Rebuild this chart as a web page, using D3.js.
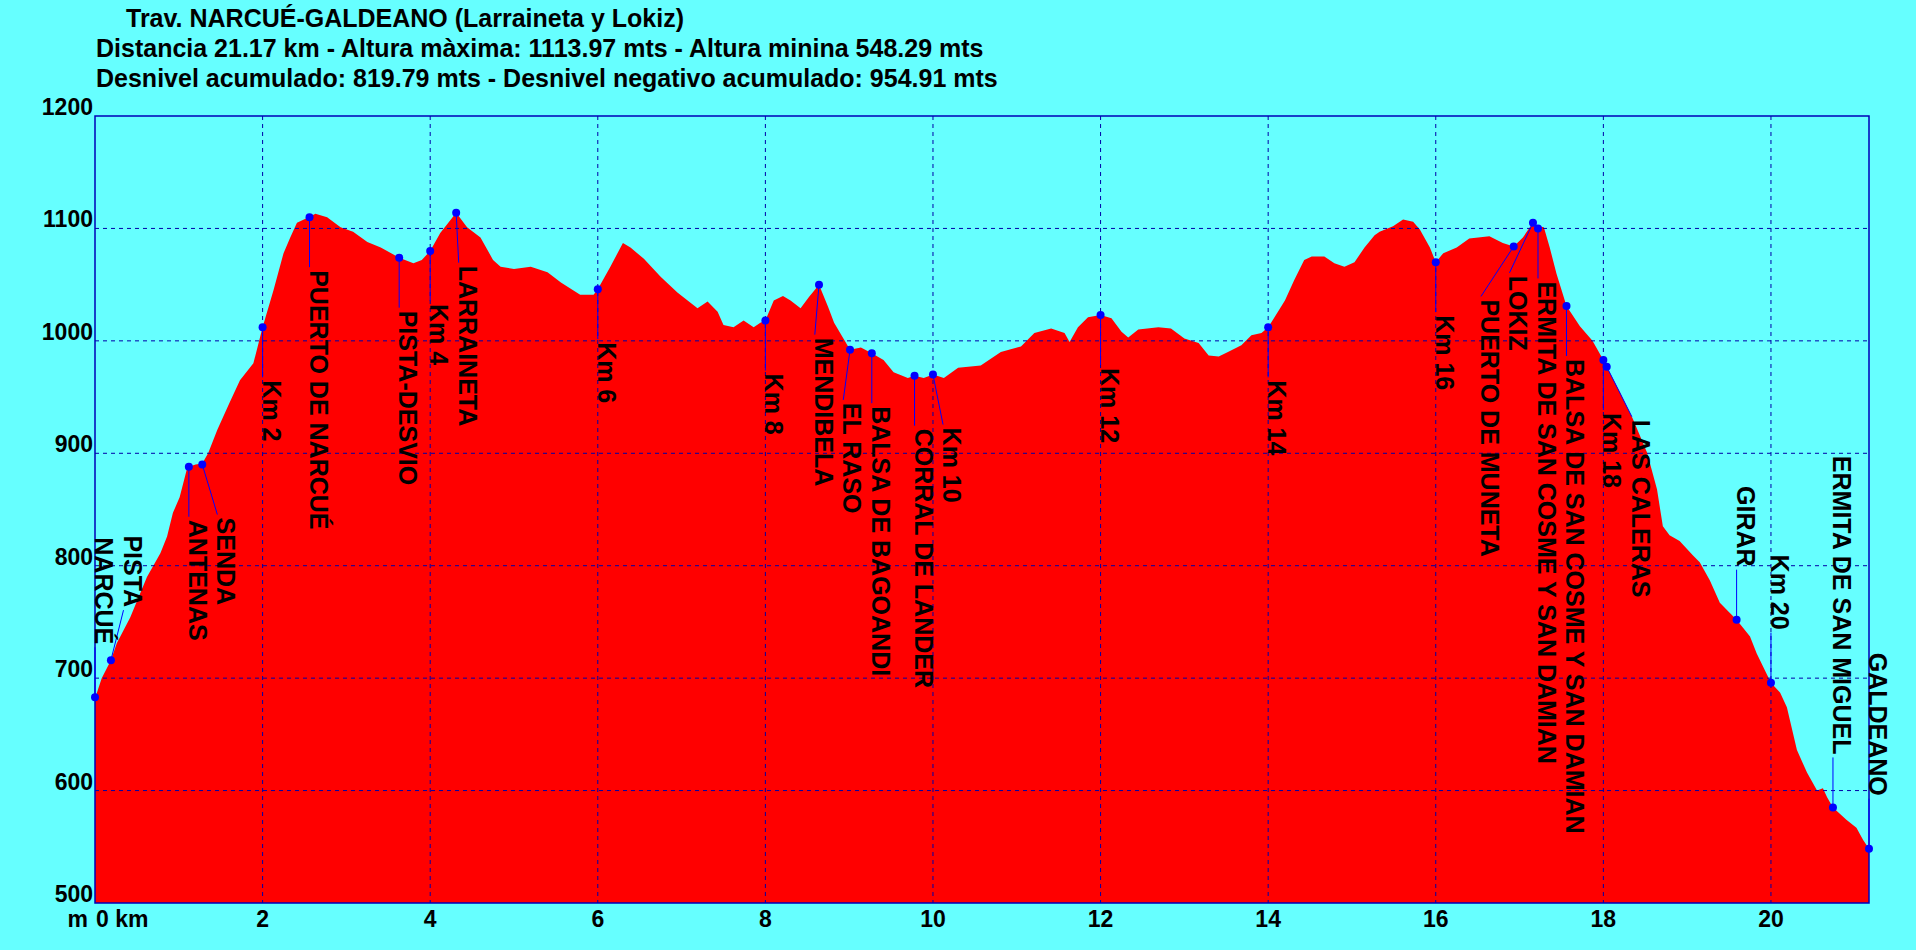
<!DOCTYPE html>
<html>
<head>
<meta charset="utf-8">
<script src="https://cdnjs.cloudflare.com/ajax/libs/d3/7.8.5/d3.min.js"></script>
<style>
  body { margin: 0; background: #66ffff; }
  text { font-family: Arial, "Liberation Sans", sans-serif; font-weight: bold; fill: #000; }
</style>
</head>
<body>
<svg id="chart"></svg>
<script>
var width = 1916;
var height = 950;

// elevation profile (km, m)
var distKm = [0.00, 0.08, 0.19, 0.26, 0.42, 0.62, 0.78, 0.86, 0.93, 1.01, 1.10, 1.12, 1.20, 1.28, 1.35, 1.46, 1.60, 1.73, 1.89,
    2.00, 2.13, 2.25, 2.33, 2.41, 2.55, 2.63, 2.77, 2.93, 3.08, 3.25, 3.41, 3.63, 3.80, 3.90,
    4.00, 4.12, 4.31, 4.44, 4.60, 4.75, 4.84, 5.00, 5.20, 5.40, 5.56, 5.79, 5.95,
    6.00, 6.15, 6.30, 6.39, 6.55, 6.75, 6.95, 7.19, 7.31, 7.43, 7.50, 7.62, 7.74, 7.86, 7.94,
    8.00, 8.10, 8.21, 8.30, 8.42, 8.52, 8.64, 8.75, 8.82, 8.94, 9.01, 9.14, 9.27, 9.41, 9.53, 9.70, 9.78, 9.89,
    10.00, 10.13, 10.30, 10.57, 10.81, 11.05, 11.21, 11.41, 11.57, 11.63, 11.73, 11.85,
    12.00, 12.13, 12.25, 12.33, 12.45, 12.69, 12.84, 13.00, 13.17, 13.29, 13.41, 13.52, 13.68, 13.80, 13.92,
    14.00, 14.20, 14.31, 14.43, 14.52, 14.67, 14.79, 14.91, 15.03, 15.15, 15.27, 15.33, 15.49, 15.61, 15.73, 15.81, 15.93,
    16.00, 16.09, 16.25, 16.40, 16.64, 16.80, 16.93, 17.04, 17.16, 17.22, 17.29, 17.36, 17.44, 17.56, 17.72, 17.87,
    18.00, 18.04, 18.20, 18.35, 18.52, 18.64, 18.71, 18.79, 18.91, 19.07, 19.15, 19.27, 19.39, 19.51, 19.59, 19.75, 19.83,
    20.00, 20.11, 20.19, 20.31, 20.43, 20.55, 20.62, 20.67, 20.74, 20.90, 21.02, 21.10, 21.17];
var elevM = [682, 700, 716, 731, 754, 790, 811, 826, 847, 861, 887, 888, 890, 891, 900, 921, 944, 965, 980,
    1012, 1045, 1078, 1092, 1105, 1110, 1113, 1110, 1101, 1097, 1088, 1083, 1074, 1069, 1072,
    1080, 1096, 1114, 1101, 1092, 1072, 1066, 1064, 1066, 1061, 1052, 1041, 1041,
    1046, 1066, 1087, 1083, 1073, 1057, 1043, 1029, 1035, 1026, 1014, 1012, 1018, 1012, 1016,
    1018, 1036, 1040, 1036, 1029, 1039, 1050, 1030, 1016, 1001, 992, 994, 989, 983, 972, 967, 969, 967,
    970, 967, 976, 978, 990, 995, 1007, 1011, 1007, 999, 1012, 1021,
    1023, 1020, 1008, 1003, 1010, 1012, 1011, 1002, 998, 987, 986, 990, 996, 1005, 1007,
    1012, 1036, 1054, 1072, 1075, 1075, 1069, 1066, 1070, 1083, 1094, 1097, 1102, 1108, 1106, 1099, 1083,
    1070, 1078, 1083, 1091, 1093, 1087, 1084, 1092, 1105, 1102, 1101, 1083, 1060, 1031, 1013, 1000,
    983, 977, 954, 931, 901, 868, 835, 827, 822, 809, 803, 787, 767, 758, 752, 737, 722,
    696, 687, 674, 636, 616, 600, 602, 594, 585, 574, 567, 556, 548.3];

// waypoints, listed in the order their labels are placed
var wpNames = ["NARCUÉ", "PISTA", "ANTENAS", "SENDA", "Km 2", "PUERTO DE NARCUÉ", "PISTA-DESVIO", "Km 4", "LARRAINETA",
    "Km 6", "Km 8", "BALSA DE BAGOANDI", "EL RASO", "MENDIBELA", "CORRAL DE LANDER", "Km 10", "Km 12", "Km 14", "Km 16",
    "ERMITA DE SAN COSME Y SAN DAMIAN", "BALSA DE SAN COSME Y SAN DAMIAN", "LOKIZ", "PUERTO DE MUNETA", "Km 18",
    "LAS CALERAS", "GIRAR", "Km 20", "ERMITA DE SAN MIGUEL", "GALDEANO"];
var wpKm = [0.00, 0.19, 1.12, 1.28, 2.00, 2.56, 3.63, 4.00, 4.31,
    6.00, 8.00, 9.27, 9.01, 8.64, 9.78, 10.00, 12.00, 14.00, 16.00,
    17.22, 17.56, 17.16, 16.93, 18.00,
    18.04, 19.59, 20.00, 20.74, 21.17];
var wpElev = [683, 716, 888, 890, 1012, 1110, 1074, 1080, 1114,
    1046, 1018, 989, 992, 1050, 969, 970, 1023, 1012, 1070,
    1100, 1031, 1105, 1084, 983,
    977, 752, 696, 585, 548.3];

var yTicks = [500, 600, 700, 800, 900, 1000, 1100, 1200];
var xTicks = [0, 2, 4, 6, 8, 10, 12, 14, 16, 18, 20];
var titleLines = [
    "Trav. NARCUÉ-GALDEANO (Larraineta y Lokiz)",
    "Distancia 21.17 km - Altura màxima: 1113.97 mts - Altura minina 548.29 mts",
    "Desnivel acumulado: 819.79 mts - Desnivel negativo acumulado: 954.91 mts"
];

var plotLeft = 95, plotRight = 1869, plotTop = 116, plotBottom = 903;

var svg = d3.select("#chart")
    .attr("width", width)
    .attr("height", height);

svg.append("rect")
    .attr("width", width)
    .attr("height", height)
    .style("fill", "#66ffff");

var x = d3.scaleLinear().domain([0, 21.17]).range([plotLeft, plotRight]);
var y = d3.scaleLinear().domain([500, 1200]).range([plotBottom, plotTop]);

var profile = distKm.map(function (k, i) { return { km: k, ele: elevM[i] }; });

var area = d3.area()
    .x(function (d) { return x(d.km); })
    .y0(y(500))
    .y1(function (d) { return y(d.ele); });

svg.append("path")
    .datum(profile)
    .attr("d", area)
    .style("fill", "#ff0000");

// grid
svg.selectAll(".hgrid")
    .data(yTicks.slice(1, -1))
    .enter().append("line")
    .attr("x1", plotLeft).attr("x2", plotRight)
    .attr("y1", function (d) { return y(d); })
    .attr("y2", function (d) { return y(d); })
    .style("stroke", "#0000a8")
    .style("stroke-width", 1)
    .style("stroke-dasharray", "4,4");

svg.selectAll(".vgrid")
    .data(xTicks.slice(1))
    .enter().append("line")
    .attr("x1", function (d) { return x(d); })
    .attr("x2", function (d) { return x(d); })
    .attr("y1", plotTop).attr("y2", plotBottom)
    .style("stroke", "#0000a8")
    .style("stroke-width", 1)
    .style("stroke-dasharray", "4,4");

svg.append("rect")
    .attr("x", plotLeft).attr("y", plotTop)
    .attr("width", plotRight - plotLeft).attr("height", plotBottom - plotTop)
    .style("fill", "none")
    .style("stroke", "#0000b8")
    .style("stroke-width", 1.5);

// axis labels
svg.selectAll(".ylab")
    .data(yTicks)
    .enter().append("text")
    .attr("x", plotLeft - 2)
    .attr("y", function (d) { return y(d) - 1; })
    .attr("text-anchor", "end")
    .style("font-size", "23px")
    .text(function (d) { return d; });

svg.selectAll(".xlab")
    .data(xTicks)
    .enter().append("text")
    .attr("x", function (d) { return d === 0 ? x(d) + 1 : x(d); })
    .attr("y", 927)
    .attr("text-anchor", function (d) { return d === 0 ? "start" : "middle"; })
    .style("font-size", "23px")
    .text(function (d) { return d === 0 ? d + " km" : d; });

svg.append("text")
    .attr("x", plotLeft - 7)
    .attr("y", 927)
    .attr("text-anchor", "end")
    .style("font-size", "23px")
    .text("m");

// title block
svg.selectAll(".title")
    .data(titleLines)
    .enter().append("text")
    .attr("x", function (d, i) { return i === 0 ? 126 : 96; })
    .attr("y", function (d, i) { return 27 + i * 30; })
    .style("font-size", "25px")
    .text(function (d) { return d; });

// waypoint labels: greedy placement, nearest free column to the dot
var spacing = 28.5;
var wps = wpNames.map(function (n, i) {
    return { name: n, px: x(wpKm[i]), py: y(wpElev[i]), below: wpElev[i] >= 850 };
});
var placed = [];
wps.forEach(function (d) {
    var cands = [d.px];
    placed.forEach(function (p) { cands.push(p.lx - spacing, p.lx + spacing); });
    cands.sort(function (a, b) { return Math.abs(a - d.px) - Math.abs(b - d.px); });
    d.lx = cands.find(function (c) {
        return placed.every(function (p) { return Math.abs(p.lx - c) >= spacing - 0.01; });
    });
    placed.push(d);
});

var labelGap = 53;

svg.selectAll(".leader")
    .data(wps)
    .enter().append("line")
    .attr("x1", function (d) { return d.px; })
    .attr("y1", function (d) { return d.py; })
    .attr("x2", function (d) { return d.lx; })
    .attr("y2", function (d) { return d.below ? d.py + labelGap - 3 : d.py - labelGap + 3; })
    .style("stroke", "#0000ff")
    .style("stroke-width", 1);

svg.selectAll(".dot")
    .data(wps)
    .enter().append("circle")
    .attr("cx", function (d) { return d.px; })
    .attr("cy", function (d) { return d.py; })
    .attr("r", 4)
    .style("fill", "#0000ff");

svg.selectAll(".wplab")
    .data(wps)
    .enter().append("text")
    .attr("transform", function (d) {
        var ty = d.below ? d.py + labelGap : d.py - labelGap;
        return "translate(" + d.lx + "," + ty + ") rotate(90)";
    })
    .attr("text-anchor", function (d) { return d.below ? "start" : "end"; })
    .style("font-size", "25px")
    .text(function (d) { return d.name; });
</script>
</body>
</html>
